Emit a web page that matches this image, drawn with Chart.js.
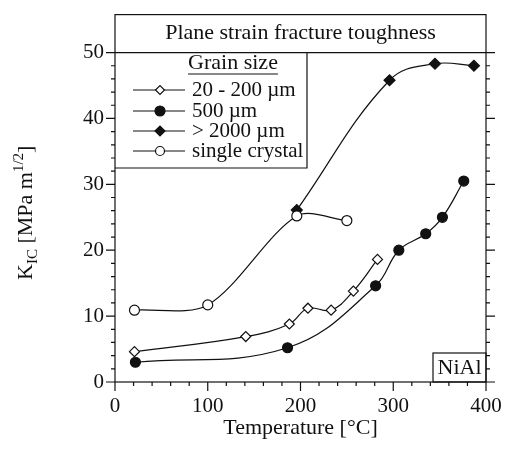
<!DOCTYPE html>
<html>
<head>
<meta charset="utf-8">
<script src="https://cdn.jsdelivr.net/npm/chart.js@4.4.0/dist/chart.umd.min.js"></script>
<style>
  html, body { margin: 0; padding: 0; background: #fff; }
  #wrap { width: 510px; height: 449px; }
</style>
</head>
<body>
<div id="wrap"><canvas id="chart" width="510" height="449"></canvas></div>
<script>
// grain size series
const seriesNames = ['20 - 200 µm', '500 µm', '> 2000 µm', 'single crystal'];
const fineX = [21, 141, 188, 208, 233, 257, 283];
const fineY = [4.6, 6.9, 8.8, 11.2, 10.9, 13.8, 18.6];
const midX = [22, 186, 281, 306, 335, 353, 376];
const midY = [3.0, 5.2, 14.6, 20.0, 22.5, 25.0, 30.5];
const coarseX = [196, 296, 345, 387];
const coarseY = [26.1, 45.8, 48.3, 48.0];
const crystalX = [21, 100, 196, 250];
const crystalY = [10.9, 11.7, 25.2, 24.5];

const xTicks = [0, 100, 200, 300, 400];
const yTicks = [0, 10, 20, 30, 40, 50];

const serif = '"Liberation Serif", "Times New Roman", serif';
const ink = '#111';

function pts(xs, ys) {
  return xs.map((x, i) => ({ x: x, y: ys[i] }));
}

function marker(ctx, style, x, y, r, filled) {
  ctx.beginPath();
  if (style === 'circle') {
    ctx.arc(x, y, r, 0, Math.PI * 2);
  } else {
    ctx.moveTo(x - r, y);
    ctx.lineTo(x, y - r);
    ctx.lineTo(x + r, y);
    ctx.lineTo(x, y + r);
    ctx.closePath();
  }
  ctx.fillStyle = filled ? ink : '#fff';
  ctx.fill();
  ctx.stroke();
}

const decor = {
  id: 'decor',
  afterDraw(chart) {
    const ctx = chart.ctx;
    const a = chart.chartArea;
    const xs = chart.scales.x, ys = chart.scales.y;
    ctx.save();
    ctx.strokeStyle = ink;
    ctx.fillStyle = ink;
    ctx.lineWidth = 1.2;

    // frame
    ctx.strokeRect(a.left, a.top, a.right - a.left, a.bottom - a.top);

    // ticks, all outside
    ctx.beginPath();
    for (let v = 0; v <= 400; v += 20) {
      const px = xs.getPixelForValue(v);
      const len = xTicks.includes(v) ? 9 : 4;
      ctx.moveTo(px, a.bottom);
      ctx.lineTo(px, a.bottom + len);
    }
    for (let v = 0; v <= 50; v += 2) {
      const py = ys.getPixelForValue(v);
      const len = yTicks.includes(v) ? 9 : 4;
      ctx.moveTo(a.left - len, py);
      ctx.lineTo(a.left, py);
      ctx.moveTo(a.right, py);
      ctx.lineTo(a.right + len, py);
    }
    // the 50 line closes the title box
    const y50 = ys.getPixelForValue(50);
    ctx.moveTo(a.left - 9, y50);
    ctx.lineTo(a.right + 9, y50);
    ctx.stroke();

    // title
    ctx.textBaseline = 'middle';
    ctx.textAlign = 'center';
    ctx.font = '22px ' + serif;
    ctx.fillText('Plane strain fracture toughness', (a.left + a.right) / 2, 33);

    // legend box
    const lgRight = 307, lgBottom = 168;
    ctx.beginPath();
    ctx.moveTo(lgRight, y50);
    ctx.lineTo(lgRight, lgBottom);
    ctx.lineTo(a.left, lgBottom);
    ctx.stroke();

    ctx.font = '22px ' + serif;
    ctx.fillText('Grain size', 233, 63);
    const hw = ctx.measureText('Grain size').width / 2;
    ctx.beginPath();
    ctx.moveTo(233 - hw, 74);
    ctx.lineTo(233 + hw, 74);
    ctx.stroke();

    const rows = [90, 111, 131, 151];
    const styles = [['rectRot', 4.5, false], ['circle', 5, true], ['rectRot', 5, true], ['circle', 4.5, false]];
    ctx.font = '21px ' + serif;
    rows.forEach((ry, i) => {
      ctx.beginPath();
      ctx.moveTo(133, ry);
      ctx.lineTo(185, ry);
      ctx.stroke();
      marker(ctx, styles[i][0], 160, ry, styles[i][1], styles[i][2]);
      ctx.fillStyle = ink;
      ctx.textAlign = 'left';
      ctx.fillText(seriesNames[i], 192, ry);
    });

    // NiAl label
    ctx.strokeRect(433, 353, a.right - 433, a.bottom - 353);
    ctx.textAlign = 'center';
    ctx.font = '22px ' + serif;
    ctx.fillText('NiAl', (433 + a.right) / 2, 368);

    // x title
    ctx.fillText('Temperature [°C]', (a.left + a.right) / 2, 428);

    // y title with sub/superscript
    ctx.translate(32, 280);
    ctx.rotate(-Math.PI / 2);
    ctx.textAlign = 'left';
    ctx.textBaseline = 'alphabetic';
    let cx = 0;
    ctx.font = '22px ' + serif;
    ctx.fillText('K', cx, 0);
    cx += ctx.measureText('K').width;
    ctx.font = '15px ' + serif;
    ctx.fillText('IC', cx, 5);
    cx += ctx.measureText('IC').width;
    ctx.font = '22px ' + serif;
    ctx.fillText(' [MPa m', cx, 0);
    cx += ctx.measureText(' [MPa m').width;
    ctx.font = '15px ' + serif;
    ctx.fillText('1/2', cx, -9);
    cx += ctx.measureText('1/2').width;
    ctx.font = '22px ' + serif;
    ctx.fillText(']', cx, 0);

    ctx.restore();
  }
};

function lineSet(label, data, style, r, filled, tension) {
  return {
    label: label,
    data: data,
    borderColor: ink,
    borderWidth: 1.2,
    tension: tension,
    pointStyle: style,
    pointRadius: r,
    pointBackgroundColor: filled ? ink : '#fff',
    pointBorderColor: ink,
    pointBorderWidth: 1.2
  };
}

new Chart(document.getElementById('chart'), {
  type: 'line',
  data: {
    datasets: [
      lineSet(seriesNames[3], pts(crystalX, crystalY), 'circle', 5, false, 0.3),
      lineSet(seriesNames[0], pts(fineX, fineY), 'rectRot', 5, false, 0.4),
      lineSet(seriesNames[1], pts(midX, midY), 'circle', 5, true, 0.4),
      lineSet(seriesNames[2], pts(coarseX, coarseY), 'rectRot', 5.5, true, 0.4)
    ]
  },
  options: {
    responsive: false,
    animation: false,
    events: [],
    layout: { padding: { left: 0, right: 24, top: 14, bottom: 0 } },
    scales: {
      x: {
        type: 'linear',
        min: 0,
        max: 400,
        afterFit: s => { s.height = 67; },
        afterBuildTicks: s => { s.ticks = xTicks.map(v => ({ value: v })); },
        grid: { display: false, drawTicks: true, tickLength: 9 },
        border: { display: false },
        ticks: { color: ink, padding: 3, maxRotation: 0, font: { family: serif, size: 21 } }
      },
      y: {
        type: 'linear',
        min: 0,
        max: 55.76,
        afterFit: s => { s.width = 115; },
        afterBuildTicks: s => { s.ticks = yTicks.map(v => ({ value: v })); },
        grid: { display: false, drawTicks: true, tickLength: 9 },
        border: { display: false },
        ticks: { color: ink, padding: 2, font: { family: serif, size: 21 } }
      }
    },
    plugins: {
      legend: { display: false },
      tooltip: { enabled: false }
    }
  },
  plugins: [decor]
});
</script>
</body>
</html>
